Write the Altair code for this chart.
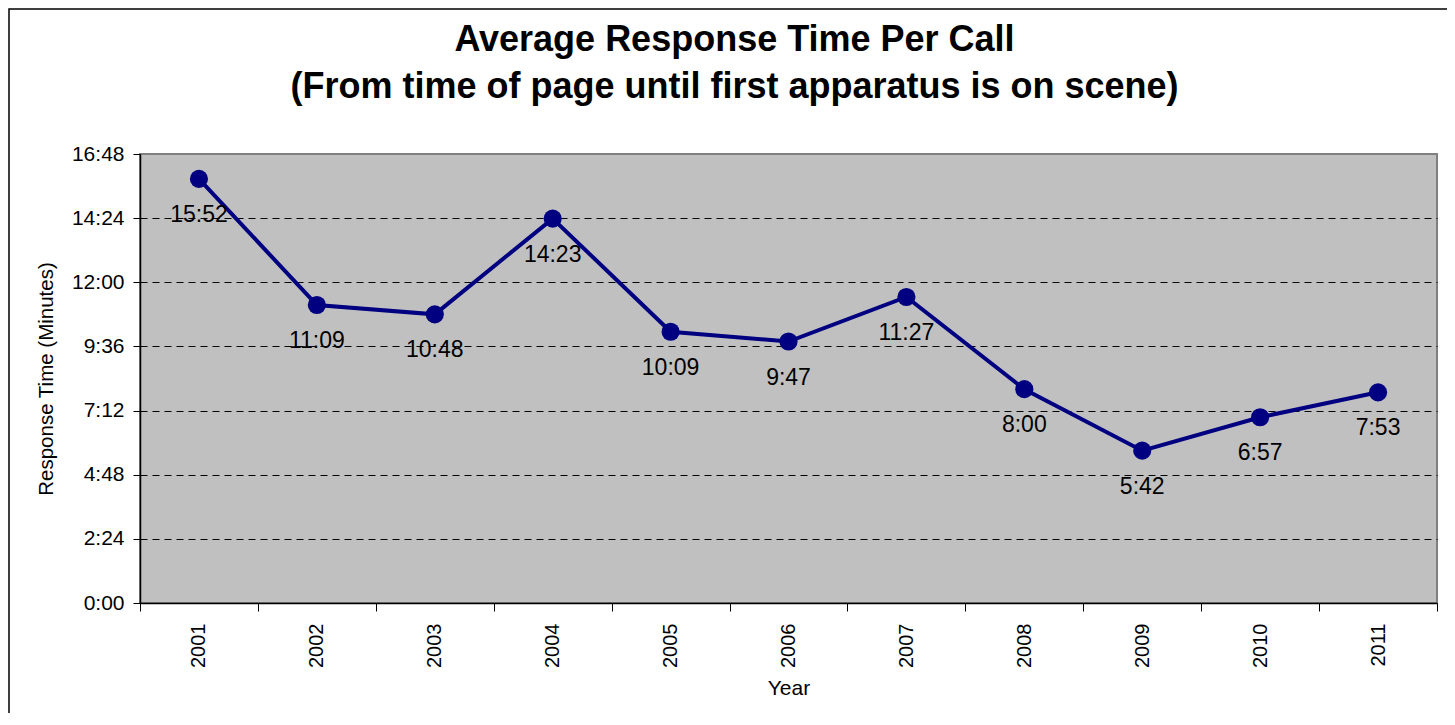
import altair as alt
import pandas as pd

years = ["2001", "2002", "2003", "2004", "2005", "2006", "2007", "2008", "2009", "2010", "2011"]
seconds = [952, 669, 648, 863, 609, 587, 687, 480, 342, 417, 473]
y_ticks = [0, 144, 288, 432, 576, 720, 864, 1008]

df = pd.DataFrame({"Year": years, "Seconds": seconds})

FONT = "Liberation Sans"
mmss = "floor(datum.value/60) + ':' + (datum.value % 60 < 10 ? '0' : '') + (datum.value % 60)"

x_enc = alt.X(
    "Year:O",
    sort=years,
    scale=alt.Scale(type="band", paddingInner=0, paddingOuter=0),
    axis=alt.Axis(
        title="Year", labelAngle=-90, labelFontSize=20, titleFontSize=21,
        labelFont=FONT, titleFont=FONT, labelColor="black", titleColor="black",
        titleFontWeight="normal", tickBand="extent", tickSize=8, tickColor="black",
        domainColor="black", domainWidth=1.5, labelPadding=12, titlePadding=10,
        grid=False, labelBaseline="middle",
    ),
)
y_enc = alt.Y(
    "Seconds:Q",
    scale=alt.Scale(domain=[0, 1008], nice=False, zero=True),
    axis=alt.Axis(
        title="Response Time (Minutes)", values=y_ticks, labelExpr=mmss,
        labelFontSize=21, titleFontSize=20.5, labelFont=FONT, titleFont=FONT,
        labelColor="black", titleColor="black", titleFontWeight="normal",
        tickSize=7, tickColor="black", domainColor="black", domainWidth=1.5,
        labelPadding=9, titlePadding=15,
        grid=True, gridColor="black", gridDash=[7, 5], gridWidth=1,
        gridOpacity={"condition": {"test": "datum.value == 0 || datum.value == 1008", "value": 0}, "value": 1},
    ),
)

base = alt.Chart(df).encode(x=x_enc, y=y_enc)

line = base.mark_line(color="#000080", strokeWidth=4)
points = base.mark_point(filled=True, color="#000080", size=330, opacity=1)
labels = base.transform_calculate(
    label="floor(datum.Seconds/60) + ':' + (datum.Seconds % 60 < 10 ? '0' : '') + (datum.Seconds % 60)"
).mark_text(font=FONT, fontSize=23, color="black", dy=36, baseline="middle", align="center").encode(
    text="label:N"
)

frame = alt.Chart(pd.DataFrame({"f": [0]})).mark_rect(
    fill="transparent", stroke="black", strokeWidth=1.5
).encode(
    x=alt.value(-131), x2=alt.value(1330), y=alt.value(-145), y2=alt.value(600)
)

chart = alt.layer(frame, line, points, labels).properties(
    width=1297,
    height=449,
    background="white",
    title=alt.Title(
        ["Average Response Time Per Call", "(From time of page until first apparatus is on scene)"],
        font=FONT, fontSize=36, fontWeight="bold", color="black",
        lineHeight=47, anchor="middle", dx=-54, offset=-98,
    ),
    autosize=alt.AutoSizeParams(type="none"),
    padding={"left": 132, "top": 146, "right": 10, "bottom": 110},
).configure_view(
    fill="#C0C0C0", stroke="#808080", strokeWidth=2
)

chart.save("out.html", embed_options={"renderer": "svg", "actions": False})
